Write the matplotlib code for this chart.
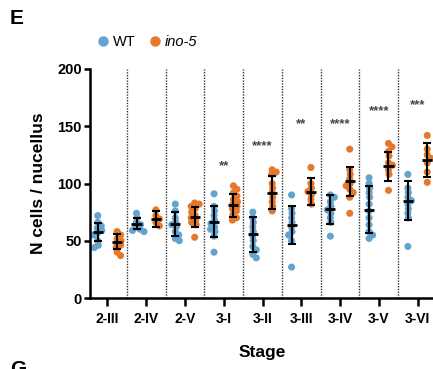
import numpy as np
import matplotlib
matplotlib.use("Agg")
import matplotlib.pyplot as plt
from matplotlib.lines import Line2D

plt.rcParams['font.family'] = ['Liberation Sans', 'DejaVu Sans']

# stages on the x axis
stages = ['2-III', '2-IV', '2-V', '3-I', '3-II', '3-III', '3-IV', '3-V', '3-VI']

# individual points per stage
wt_points = [
    [72, 66, 63, 61, 59, 57, 55, 50, 46, 44],
    [74, 70, 66, 64, 62, 60, 59, 58],
    [82, 76, 70, 66, 64, 62, 58, 55, 52, 50],
    [91, 80, 76, 72, 68, 65, 62, 60, 58, 54, 40],
    [75, 70, 66, 62, 58, 54, 50, 45, 42, 38, 35],
    [90, 78, 74, 70, 66, 62, 58, 55, 50, 27],
    [90, 88, 84, 80, 77, 74, 70, 66, 54],
    [105, 100, 96, 92, 88, 82, 76, 70, 64, 58, 55, 52],
    [108, 96, 92, 88, 85, 82, 78, 74, 70, 45],
]
ino_points = [
    [58, 55, 52, 50, 48, 46, 44, 40, 37],
    [77, 72, 69, 66, 63],
    [83, 82, 80, 78, 75, 72, 70, 68, 66, 64, 53],
    [98, 95, 92, 89, 86, 84, 82, 80, 78, 76, 73, 70, 68],
    [112, 110, 108, 100, 96, 92, 88, 84, 80, 76],
    [114, 100, 96, 93, 90, 86, 82],
    [130, 112, 108, 104, 100, 98, 95, 92, 88, 74],
    [135, 132, 128, 124, 118, 116, 112, 108, 94],
    [142, 130, 125, 122, 118, 110, 101],
]

# mean and SD bars
wt_mean = [57.6, 65, 64.5, 66.7, 55.6, 63.8, 77.5, 77, 85]
wt_sd = [8, 5, 10.3, 13.4, 15.2, 16.4, 12.7, 20.4, 17.3]
ino_mean = [49, 69, 71, 81, 92, 92.9, 102, 115, 120.5]
ino_sd = [6.5, 7, 8.7, 10, 14.5, 11.8, 12.6, 12.7, 15]

# significance marks
stars = ['', '', '', '**', '****', '**', '****', '****', '***']
star_y = [0, 0, 0, 115, 133, 152, 152, 163, 168]

wt_color = '#62a3cf'
ino_color = '#e5782b'


def swarm(vals, px_x=38.8, px_y=1.145, d=4.6):
    # simple beeswarm layout, offsets in x data units
    placed = []
    offs = []
    for v in vals:
        y = v * px_y
        cands = [0.0]
        for k in range(1, 60):
            cands += [k * 0.5, -k * 0.5]
        for off in cands:
            if all((off - ox) ** 2 + (y - oy) ** 2 >= d ** 2 for ox, oy in placed):
                break
        placed.append((off, y))
        offs.append(off / px_x)
    return offs


fig = plt.figure(figsize=(4.33, 3.69), dpi=100)
ax = fig.add_axes([90 / 433, 71 / 369, 345 / 433, 229 / 369])

x = np.arange(len(stages))
for i in range(len(stages)):
    for pts, shift, col in [(wt_points[i], -0.25, wt_color), (ino_points[i], 0.25, ino_color)]:
        offs = swarm(pts)
        ax.scatter(i + shift + np.array(offs), pts, s=26, color=col, edgecolors='none', zorder=2)

for means, sds, shift in [(wt_mean, wt_sd, -0.25), (ino_mean, ino_sd, 0.25)]:
    xs = x + shift
    ax.errorbar(xs, means, yerr=sds, fmt='none', ecolor='black', elinewidth=1.5,
                capsize=2.8, capthick=1.5, zorder=3)
    ax.hlines(means, xs - 0.13, xs + 0.13, color='black', lw=2, zorder=3)

for i in range(len(stages) - 1):
    ax.vlines(i + 0.5, 0, 200, color='#333333', lw=1.0, linestyles=(0, (1, 1)), zorder=1)

for i, s in enumerate(stars):
    if s:
        ax.text(i, star_y[i], s, ha='center', va='center', fontsize=9.5,
                fontweight='bold', color='#444444')

ax.set_xlim(-0.45, 8.45)
ax.set_ylim(0, 200)
ax.set_yticks([0, 50, 100, 150, 200])
ax.set_xticks(x)
ax.set_xticklabels(stages)
for side in ['top', 'right']:
    ax.spines[side].set_visible(False)
for side in ['left', 'bottom']:
    ax.spines[side].set_linewidth(1.8)
ax.tick_params(axis='x', length=6, width=1.8, labelsize=10, pad=4)
ax.tick_params(axis='y', length=4, width=1.8, labelsize=10.5, pad=2)
for lab in ax.get_xticklabels() + ax.get_yticklabels():
    lab.set_fontweight('bold')

ax.set_xlabel('Stage', fontsize=12.5, fontweight='bold', labelpad=14)
ax.set_ylabel('N cells / nucellus', fontsize=12.5, fontweight='bold', labelpad=8)

handles = [Line2D([], [], marker='o', ls='', color=wt_color, markersize=6.5),
           Line2D([], [], marker='o', ls='', color=ino_color, markersize=6.5)]
leg = fig.legend(handles, ['WT', 'ino-5'], loc='center left',
                 bbox_to_anchor=(88 / 433, 1 - 42 / 369), ncol=2, frameon=False,
                 fontsize=10.5, handletextpad=0.1, columnspacing=0.7, borderaxespad=0,
                 handlelength=1.2)
leg.get_texts()[1].set_style('italic')

fig.text(10 / 433, 1 - 18 / 369, 'E', fontsize=15, fontweight='bold', va='center')
fig.text(10 / 433, 1 - 360 / 369, 'G', fontsize=15, fontweight='bold', va='top')

fig.savefig('out.png', dpi=100)
